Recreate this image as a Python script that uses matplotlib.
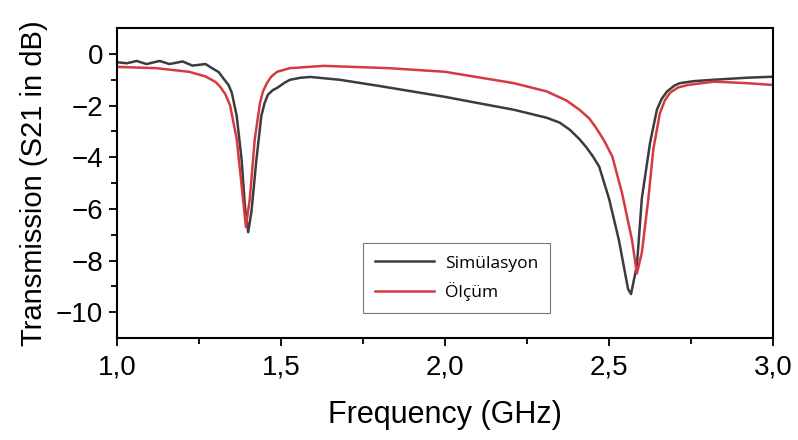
import numpy as np
from matplotlib import pyplot as plt
from matplotlib.ticker import FixedLocator

plt.rcParams['font.family'] = ['Liberation Sans', 'DejaVu Sans']

# Simülasyon (black)
sim_f = [1.00, 1.03, 1.06, 1.09, 1.13, 1.16, 1.20, 1.23, 1.27, 1.29, 1.31,
         1.324, 1.34, 1.35, 1.365, 1.38, 1.39, 1.40, 1.41, 1.425, 1.44, 1.45,
         1.46, 1.475, 1.49, 1.51, 1.527, 1.56, 1.59, 1.68, 1.78, 1.80, 1.90,
         2.00, 2.10, 2.21, 2.31, 2.35, 2.38, 2.41, 2.43, 2.45, 2.47, 2.50,
         2.53, 2.558, 2.567, 2.585, 2.60, 2.625, 2.646, 2.66, 2.677, 2.70,
         2.716, 2.76, 2.817, 2.92, 3.00]
sim_db = [-0.32, -0.36, -0.27, -0.39, -0.27, -0.39, -0.29, -0.45, -0.39, -0.55,
          -0.7, -0.94, -1.2, -1.5, -2.4, -4.1, -5.9, -6.9, -6.1, -4.1, -2.4,
          -1.9, -1.58, -1.4, -1.3, -1.12, -1.0, -0.92, -0.89, -1.0, -1.2,
          -1.24, -1.45, -1.66, -1.9, -2.16, -2.47, -2.66, -2.93, -3.3, -3.6,
          -3.95, -4.36, -5.6, -7.2, -9.1, -9.3, -8.2, -5.6, -3.45, -2.16,
          -1.75, -1.45, -1.22, -1.13, -1.05, -1.0, -0.92, -0.88]

# Ölçüm (red)
mes_f = [1.00, 1.12, 1.22, 1.27, 1.30, 1.314, 1.33, 1.345, 1.365, 1.38, 1.393,
         1.405, 1.42, 1.436, 1.445, 1.457, 1.47, 1.488, 1.527, 1.63, 1.83,
         2.00, 2.21, 2.31, 2.37, 2.41, 2.44, 2.46, 2.485, 2.51, 2.54, 2.57,
         2.585, 2.60, 2.62, 2.635, 2.655, 2.67, 2.686, 2.71, 2.74, 2.82, 2.92,
         3.00]
mes_db = [-0.5, -0.55, -0.69, -0.87, -1.08, -1.26, -1.55, -2.0, -3.3, -5.1,
          -6.7, -5.6, -3.3, -1.9, -1.45, -1.13, -0.88, -0.69, -0.55, -0.46,
          -0.55, -0.69, -1.13, -1.45, -1.8, -2.16, -2.5, -2.85, -3.35, -3.97,
          -5.4, -7.2, -8.5, -7.7, -5.6, -3.7, -2.3, -1.8, -1.5, -1.3, -1.2,
          -1.07, -1.13, -1.2]

xticks = [1.0, 1.5, 2.0, 2.5, 3.0]
xticklabels = ['1,0', '1,5', '2,0', '2,5', '3,0']
yticks = [0, -2, -4, -6, -8, -10]

fig = plt.figure(figsize=(7.98, 4.40), dpi=100)
ax = fig.add_axes([0.1466, 0.2318, 0.8221, 0.7042])

ax.plot(sim_f, sim_db, color='#3c3c3c', lw=1.8, label='Simülasyon')
ax.plot(mes_f, mes_db, color='#d63a40', lw=1.8, label='Ölçüm')

ax.set_xlim(1.0, 3.0)
ax.set_ylim(-11, 1)
ax.set_xticks(xticks)
ax.set_xticklabels(xticklabels)
ax.set_yticks(yticks)
ax.xaxis.set_minor_locator(FixedLocator([1.25, 1.75, 2.25, 2.75]))
ax.yaxis.set_minor_locator(FixedLocator([-1, -3, -5, -7, -9]))
ax.tick_params(which='both', direction='out', width=1.3, labelsize=20,
               top=False, right=False)
ax.tick_params(which='major', length=6)
ax.tick_params(which='minor', length=4)
ax.tick_params(axis='x', pad=6)
ax.tick_params(axis='y', pad=4)
for s in ax.spines.values():
    s.set_linewidth(1.5)

ax.set_xlabel('Frequency (GHz)', fontsize=22, labelpad=14)
ax.set_ylabel('Transmission (S21 in dB)', fontsize=21, labelpad=6)

leg = ax.legend(loc='upper left', bbox_to_anchor=(0.375, 0.084, 0.285, 0.222),
                mode='expand', borderaxespad=0, frameon=True, fancybox=False,
                handlelength=3.4, handletextpad=0.6, borderpad=0.7,
                labelspacing=0.6,
                prop={'family': ['Open Sans', 'DejaVu Sans'], 'size': 12.5})
leg.get_frame().set_edgecolor('#555555')
leg.get_frame().set_linewidth(0.8)

fig.savefig('out.png', dpi=100)
